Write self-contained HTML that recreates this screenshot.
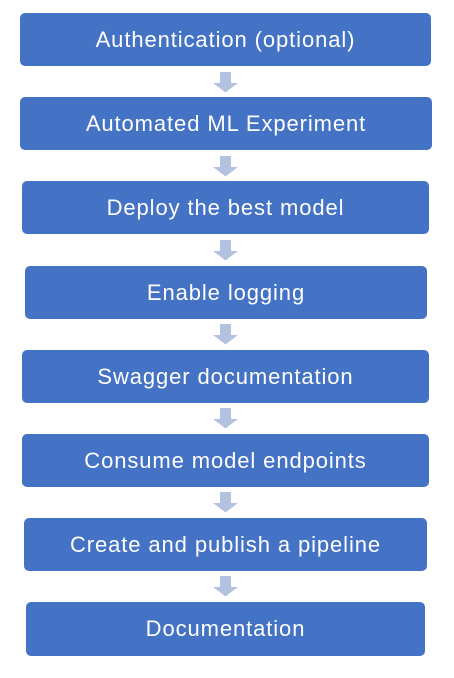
<!DOCTYPE html>
<html><head><style>
body{margin:0;width:454px;height:678px;background:#fff;position:relative;overflow:hidden;font-family:"Liberation Sans",sans-serif}
.b{position:absolute;height:53px;background:#4472c4;border-radius:5px;color:#fff;font-size:22px;letter-spacing:0.9px;display:flex;align-items:center;justify-content:center}
</style></head><body>
<div class="b" style="left:20px;width:411px;top:13px">Authentication (optional)</div>
<div class="b" style="left:20px;width:412px;top:97px">Automated ML Experiment</div>
<div class="b" style="left:22px;width:407px;top:181px">Deploy the best model</div>
<div class="b" style="left:25px;width:402px;top:266px">Enable logging</div>
<div class="b" style="left:22px;width:407px;top:350px">Swagger documentation</div>
<div class="b" style="left:22px;width:407px;top:434px">Consume model endpoints</div>
<div class="b" style="left:24px;width:403px;top:518px">Create and publish a pipeline</div>
<div class="b" style="left:26px;width:399px;top:602px;height:54px">Documentation</div>
<svg width="454" height="678" style="position:absolute;left:0;top:0">
<g fill="#b4c2e1">
<path id="ar" d="M220 72h11v11h7l-12.5 9.5l-12.5-9.5h7z"/>
<use href="#ar" y="84"/><use href="#ar" y="168"/><use href="#ar" y="252"/>
<use href="#ar" y="336"/><use href="#ar" y="420"/><use href="#ar" y="504"/>
</g></svg>
</body></html>
